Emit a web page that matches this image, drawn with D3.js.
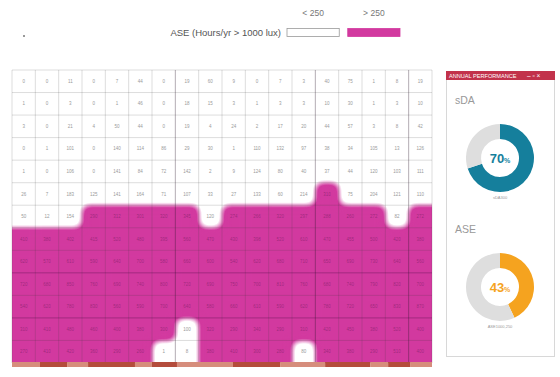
<!DOCTYPE html>
<html>
<head>
<meta charset="utf-8">
<script src="https://cdn.jsdelivr.net/npm/d3@7"></script>
<style>
  body { margin: 0; background: #fff; }
  svg { display: block; font-family: "Liberation Sans", Arial, sans-serif; }
</style>
</head>
<body>
<svg id="chart"></svg>
<script>
// ASE hours per sensor cell (rows top -> bottom, 18 columns)
const aseHours = [
  [0, 0, 11, 0, 7, 44, 0, 19, 60, 9, 0, 7, 3, 40, 75, 1, 8, 19],
  [1, 0, 3, 0, 1, 46, 0, 18, 15, 3, 1, 3, 3, 10, 30, 1, 3, 10],
  [3, 0, 21, 4, 50, 44, 0, 19, 4, 24, 2, 17, 20, 44, 57, 3, 8, 42],
  [0, 1, 101, 0, 140, 114, 86, 29, 30, 1, 110, 132, 97, 38, 34, 105, 13, 126],
  [1, 0, 106, 0, 141, 84, 72, 142, 2, 9, 124, 80, 40, 37, 44, 120, 103, 111],
  [26, 7, 183, 125, 141, 164, 71, 107, 33, 27, 133, 60, 214, 310, 75, 204, 121, 110],
  [50, 12, 154, 290, 312, 301, 320, 345, 120, 274, 266, 320, 297, 288, 260, 272, 82, 272],
  [410, 380, 402, 415, 520, 480, 395, 560, 470, 430, 398, 520, 610, 470, 455, 500, 420, 380],
  [620, 570, 610, 590, 640, 700, 580, 660, 600, 540, 620, 680, 710, 650, 690, 730, 640, 560],
  [720, 680, 850, 760, 690, 740, 800, 720, 690, 750, 700, 810, 760, 680, 740, 790, 820, 700],
  [540, 620, 780, 830, 560, 590, 700, 640, 580, 660, 610, 590, 620, 780, 720, 650, 830, 870],
  [310, 410, 480, 460, 400, 380, 300, 100, 320, 290, 340, 290, 310, 420, 450, 380, 520, 400],
  [270, 410, 420, 360, 290, 260, 1, 8, 380, 410, 300, 280, 80, 340, 380, 290, 510, 400]
];
const threshold = 250;
const legendLabels = ['< 250', '> 250'];
const legendTitle = 'ASE (Hours/yr > 1000 lux)';
// wall / window strip along the bottom edge, in column units
const stripStops = [0, 1.2, 2.36, 3.26, 5.27, 6, 7.07, 9.47, 11.49, 13.42, 15.35, 16.12, 17.06, 18];
const darkLines = {cols: [7, 13, 17], rows: [9, 11]};
const perf = [
  {name: 'sDA', metric: 'sDA300', value: 70, color: '#157f9c'},
  {name: 'ASE', metric: 'ASE1000,250', value: 43, color: '#f5a31f'}
];

const width = 560, height = 377;
const pink = '#d2399f';

const svg = d3.select('#chart')
  .attr('width', width)
  .attr('height', height);

svg.append('rect').attr('width', width).attr('height', height).attr('fill', '#fff');

const nRows = aseHours.length, nCols = aseHours[0].length;
const grid = {left: 12, right: 432, top: 70, bottom: 363};

const x = d3.scaleLinear().domain([0, nCols]).range([grid.left, grid.right]);
const y = d3.scaleLinear().domain([0, nRows]).range([grid.top, grid.bottom]);

const cells = [];
aseHours.forEach((row, r) => row.forEach((v, c) => cells.push({r, c, v})));

// soft contour of the cells above threshold: blur, then sharpen alpha
const defs = svg.append('defs');
const filter = defs.append('filter').attr('id', 'soft')
  .attr('color-interpolation-filters', 'sRGB')
  .attr('x', '-10%').attr('y', '-10%').attr('width', '120%').attr('height', '120%');
filter.append('feGaussianBlur').attr('stdDeviation', 5);
filter.append('feColorMatrix').attr('type', 'matrix')
  .attr('values', '1 0 0 0 0  0 1 0 0 0  0 0 1 0 0  0 0 0 2.3 -0.62');
defs.append('clipPath').attr('id', 'gridClip')
  .append('rect')
  .attr('x', grid.left).attr('y', grid.top)
  .attr('width', grid.right - grid.left).attr('height', grid.bottom - grid.top);

const pad = 20;
svg.append('g').attr('clip-path', 'url(#gridClip)')
  .append('g').attr('filter', 'url(#soft)')
  .selectAll('rect')
  .data(cells.filter(d => d.v > threshold))
  .join('rect')
  .attr('x', d => x(d.c) - (d.c === 0 ? pad : 0))
  .attr('y', d => y(d.r) - (d.r === 0 ? pad : 0))
  .attr('width', d => x(d.c + 1) - x(d.c) + (d.c === 0 ? pad : 0) + (d.c === nCols - 1 ? pad : 0) + 0.5)
  .attr('height', d => y(d.r + 1) - y(d.r) + (d.r === 0 ? pad : 0) + (d.r === nRows - 1 ? pad : 0) + 0.5)
  .attr('fill', pink);

// grid lines
const lines = svg.append('g');
lines.selectAll('.v')
  .data(d3.range(nCols + 1))
  .join('line')
  .attr('x1', d => x(d)).attr('x2', d => x(d))
  .attr('y1', grid.top).attr('y2', grid.bottom)
  .attr('stroke', d => darkLines.cols.includes(d) ? 'rgba(40,20,40,0.5)' : 'rgba(60,60,60,0.25)')
  .attr('stroke-width', 0.7);
lines.selectAll('.h')
  .data(d3.range(nRows + 1))
  .join('line')
  .attr('y1', d => y(d)).attr('y2', d => y(d))
  .attr('x1', grid.left).attr('x2', grid.right)
  .attr('stroke', d => darkLines.rows.includes(d) ? 'rgba(60,10,60,0.45)' : 'rgba(60,60,60,0.25)')
  .attr('stroke-width', 0.7);

// cell values
svg.append('g')
  .selectAll('text')
  .data(cells)
  .join('text')
  .attr('x', d => x(d.c + 0.5))
  .attr('y', d => y(d.r + 0.5) + 1.6)
  .attr('text-anchor', 'middle')
  .attr('font-size', 4.5)
  .attr('fill', d => d.v > threshold ? 'rgba(90,20,80,0.45)' : '#9a9a9a')
  .text(d => d.v);

// bottom strip
const strip = d3.pairs(stripStops).map((p, i) => ({a: p[0], b: p[1], dark: i % 2 === 1}));
svg.append('g')
  .selectAll('rect')
  .data(strip)
  .join('rect')
  .attr('x', d => x(d.a)).attr('width', d => x(d.b) - x(d.a))
  .attr('y', grid.bottom - 1).attr('height', 5)
  .attr('fill', d => d.dark ? '#b44c3c' : '#d68d7c');

// legend
svg.append('circle').attr('cx', 24).attr('cy', 36).attr('r', 1).attr('fill', '#777');
const legend = svg.append('g');
legend.append('text')
  .attr('x', 281).attr('y', 35.5)
  .attr('text-anchor', 'end')
  .attr('font-size', 9.5).attr('fill', '#555')
  .text(legendTitle);
const lx = d3.scaleBand().domain(legendLabels).range([287, 400]).paddingInner(0.14);
legend.selectAll('rect')
  .data(legendLabels)
  .join('rect')
  .attr('x', d => lx(d)).attr('y', 28.5)
  .attr('width', lx.bandwidth()).attr('height', 8)
  .attr('fill', (d, i) => i ? pink : '#fff')
  .attr('stroke', (d, i) => i ? pink : '#999')
  .attr('stroke-width', 0.8);
legend.selectAll('.lab')
  .data(legendLabels)
  .join('text')
  .attr('x', d => lx(d) + lx.bandwidth() / 2).attr('y', 16)
  .attr('text-anchor', 'middle')
  .attr('font-size', 8.5).attr('fill', '#777')
  .text(d => d);

// annual performance panel
const panel = svg.append('g');
panel.append('rect')
  .attr('x', 446.5).attr('y', 71.5).attr('width', 108).attr('height', 285)
  .attr('fill', '#fff').attr('stroke', '#d8d8d8');
panel.append('rect')
  .attr('x', 446).attr('y', 71).attr('width', 109).attr('height', 9)
  .attr('fill', '#c2324b');
panel.append('text')
  .attr('x', 449).attr('y', 77.6)
  .attr('font-size', 5.6).attr('fill', '#fff')
  .text('ANNUAL PERFORMANCE');
panel.append('text')
  .attr('x', 527).attr('y', 78.2)
  .attr('font-size', 6.5).attr('fill', '#fff')
  .text('–  ▫  ×');

const arc = d3.arc().innerRadius(19).outerRadius(34);
const pie = d3.pie().sort(null).value(d => d);
const centers = [{cx: 500, cy: 158, ty: 104}, {cx: 500, cy: 287, ty: 233}];

perf.forEach((p, i) => {
  const c = centers[i];
  panel.append('text')
    .attr('x', 455).attr('y', c.ty)
    .attr('font-size', 10.5).attr('fill', '#999')
    .text(p.name);
  const g = panel.append('g').attr('transform', `translate(${c.cx},${c.cy})`);
  g.selectAll('path')
    .data(pie([p.value, 100 - p.value]))
    .join('path')
    .attr('d', arc)
    .attr('fill', (d, j) => j ? '#dedede' : p.color);
  const t = g.append('text')
    .attr('text-anchor', 'middle').attr('y', 5)
    .attr('fill', p.color).attr('font-weight', 'bold');
  t.append('tspan').attr('font-size', 13).text(p.value);
  t.append('tspan').attr('font-size', 7).text('%');
  g.append('text')
    .attr('text-anchor', 'middle').attr('y', 41)
    .attr('font-size', 4).attr('fill', '#999')
    .text(p.metric);
});
</script>
</body>
</html>
